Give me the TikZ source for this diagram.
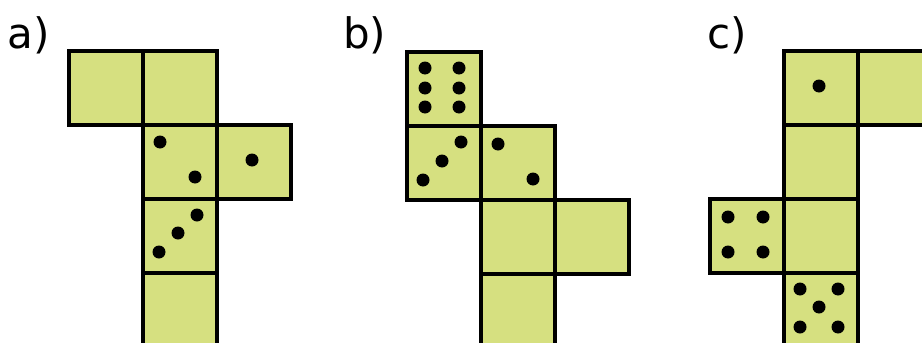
\documentclass[tikz,border=0pt]{standalone}
\usepackage{fontspec}
\setmainfont{DejaVu Sans}
\definecolor{facefill}{RGB}{214,224,128}
\tikzset{
  face/.style={draw=black, fill=facefill, line width=3.8pt, rectangle, minimum size=74pt, inner sep=0pt, anchor=north west},
  pip/.style={fill=black},
  lbl/.style={anchor=base west, inner sep=0pt, font=\fontsize{42}{46}\selectfont}
}
\newcommand{\pipat}[3]{\fill[pip] ([shift={(#2,#3)}]#1.north west) circle[radius=6.5pt];}
\begin{document}
\begin{tikzpicture}[x=1pt,y=-1pt]
\useasboundingbox (0,0) rectangle (922,343);
\clip (0,0) rectangle (922,343);
% labels
\node[lbl] (la) at (7.5,48) {a)};
\node[lbl] (lb) at (343,48) {b)};
\node[lbl] (lc) at (707.5,48) {c)};
% panel a
\node[face] (a1) at (67,49) {};
\node[face] (a2) at (141,49) {};
\node[face] (a3) at (141,123) {};
\node[face] (a4) at (215,123) {};
\node[face] (a5) at (141,197) {};
\node[face] (a6) at (141,271) {};
\pipat{a3}{19}{19}\pipat{a3}{54}{54}
\pipat{a4}{37}{37}
\pipat{a5}{18}{55}\pipat{a5}{37}{36}\pipat{a5}{56}{18}
% panel b
\node[face] (b1) at (405,50) {};
\node[face] (b2) at (405,124) {};
\node[face] (b3) at (479,124) {};
\node[face] (b4) at (479,198) {};
\node[face] (b5) at (553,198) {};
\node[face] (b6) at (479,272) {};
\pipat{b1}{20}{18}\pipat{b1}{20}{38}\pipat{b1}{20}{57}
\pipat{b1}{54}{18}\pipat{b1}{54}{38}\pipat{b1}{54}{57}
\pipat{b2}{18}{56}\pipat{b2}{37}{37}\pipat{b2}{56}{18}
\pipat{b3}{19}{20}\pipat{b3}{54}{55}
% panel c
\node[face] (c1) at (782,49) {};
\node[face] (c2) at (856,49) {};
\node[face] (c3) at (782,123) {};
\node[face] (c4) at (708,197) {};
\node[face] (c5) at (782,197) {};
\node[face] (c6) at (782,271) {};
\pipat{c1}{37}{37}
\pipat{c4}{20}{20}\pipat{c4}{55}{20}\pipat{c4}{20}{55}\pipat{c4}{55}{55}
\pipat{c6}{18}{18}\pipat{c6}{56}{18}\pipat{c6}{37}{36}\pipat{c6}{18}{56}\pipat{c6}{56}{56}
\end{tikzpicture}
\end{document}
